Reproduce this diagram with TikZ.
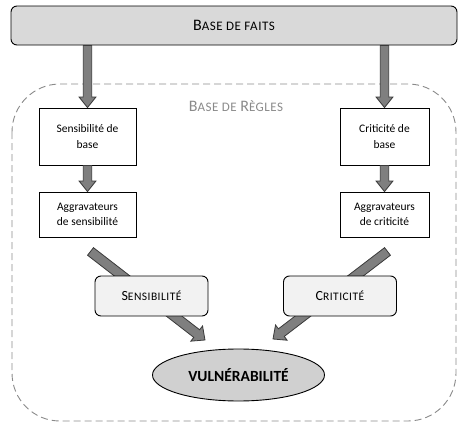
\documentclass[tikz,border=0pt]{standalone}
\usepackage{fontspec}
\setmainfont{Carlito}
\usetikzlibrary{calc,shapes.geometric}
\definecolor{arrowfill}{HTML}{7F7F7F}
\definecolor{arrowline}{HTML}{3A3A3A}
\definecolor{barfill}{HTML}{D9D9D9}
\definecolor{boxfill}{HTML}{F2F2F2}
\definecolor{ellfill}{HTML}{D0D0D0}
\definecolor{dashgray}{HTML}{8A8A8A}
\newcommand\hsc[1]{{\fontsize{13}{15}\selectfont\addfontfeature{LetterSpace=4}#1}}
\newcommand\rsc[1]{{\fontsize{11.5}{13}\selectfont\addfontfeature{LetterSpace=4}#1}}
\newcommand\blockarrow[3][4.2]{%
  \path let \p1=(#2), \p2=(#3), \n1={atan2(\y2-\y1,\x2-\x1)}, \n2={veclen(\x2-\x1,\y2-\y1)} in
   [draw=arrowline, fill=arrowfill, line width=0.8pt, line join=miter, shift={(\p1)}, rotate=\n1]
   (0,-#1) -- (\n2-10.5,-#1) -- (\n2-10.5,-2*#1) -- (\n2,0) -- (\n2-10.5,2*#1) -- (\n2-10.5,#1) -- (0,#1) -- cycle;}
\tikzset{
  rulebox/.style={draw=black, fill=white, line width=0.9pt, align=center, inner sep=2pt,
    font=\fontsize{11.5}{15.5}\selectfont},
  resbox/.style={draw=black, fill=boxfill, line width=0.9pt, rounded corners=6pt,
    minimum width=113pt, minimum height=40pt, font=\fontsize{14}{16}\selectfont},
}
\begin{document}
\begin{tikzpicture}[x=1pt,y=-1pt]
\useasboundingbox (0,0) rectangle (459,423);
% base de faits
\node[draw=black, fill=barfill, line width=0.9pt, rounded corners=6pt,
  minimum width=446pt, minimum height=39pt, font=\fontsize{16}{18}\selectfont]
  (bar) at (234,25.5) {B\hsc{ASE DE FAITS}};
% base de regles
\draw[dashgray, line width=0.9pt, dash pattern=on 7pt off 4pt, rounded corners=48pt]
  (12,84) rectangle (456,421);
\node[text=dashgray, font=\fontsize{16}{18}\selectfont] (regles) at (236,106)
  {B\hsc{ASE DE} R\hsc{ÈGLES}};
% boxes
\node[rulebox, minimum width=97pt, minimum height=57pt] (lb1) at (87.5,136.5) {Sensibilité de\\base};
\node[rulebox, minimum width=97pt, minimum height=45pt] (lb2) at (87.5,214.5) {Aggravateurs\\de sensibilité};
\node[rulebox, minimum width=89pt, minimum height=57pt] (rb1) at (384.5,136.5) {Criticité de\\base};
\node[rulebox, minimum width=89pt, minimum height=45pt] (rb2) at (384.5,214.5) {Aggravateurs\\de criticité};
\node[ellipse, draw=black, fill=ellfill, line width=0.9pt, minimum width=172pt, minimum height=52pt,
  font=\bfseries\fontsize{15.5}{18}\selectfont] (vul) at (238.5,375) {VULNÉRABILITÉ};
% arrows
\blockarrow{bar.south -| lb1.center}{lb1.north}
\blockarrow{bar.south -| rb1.center}{rb1.north}
\blockarrow{lb1.south}{lb2.north}
\blockarrow{rb1.south}{rb2.north}
\coordinate (ls) at ($(lb2.south)+(3,14)$);
\coordinate (le) at ($(vul.center)+(-33.5,-35)$);
\coordinate (rs) at ($(rb2.south)+(3,14)$);
\coordinate (re) at ($(vul.center)+(34.5,-36)$);
\blockarrow[4.8]{ls}{le}
\blockarrow[4.8]{rs}{re}
% result boxes
\node[resbox] (sens) at (151.5,296) {S\rsc{ENSIBILITÉ}};
\node[resbox] (crit) at (340,296) {C\rsc{RITICITÉ}};
\end{tikzpicture}
\end{document}
